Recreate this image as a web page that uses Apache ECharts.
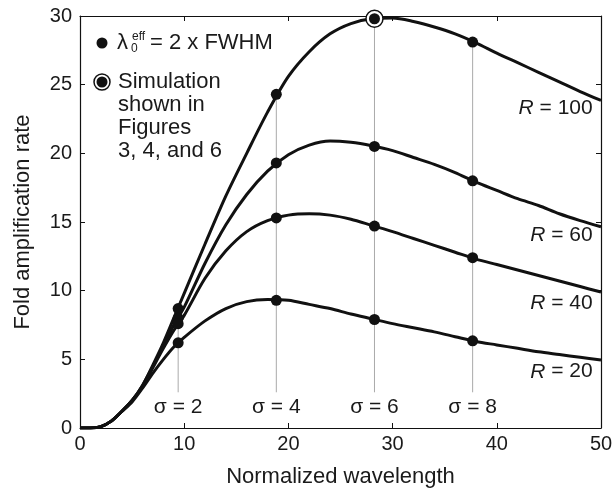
<!DOCTYPE html>
<html>
<head>
<meta charset="utf-8">
<script src="https://cdn.jsdelivr.net/npm/echarts@6/dist/echarts.min.js"></script>
<style>
  html, body { margin: 0; padding: 0; background: #fff; }
  #chart { width: 616px; height: 494px; }
</style>
</head>
<body>
<div id="chart"></div>
<script>
// sample positions along the normalized wavelength
var xs = [0, 1, 2, 3, 4, 5, 6, 7, 8, 9, 10, 12, 14, 16, 18, 20, 22, 24, 26, 28, 30, 32, 34, 36, 38, 40, 42, 44, 46, 48, 50];
var r100 = [0, 0, 0.1, 0.5, 1.2, 2.0, 3.1, 4.6, 6.2, 8.0, 9.8, 13.4, 16.9, 20.0, 23.0, 25.6, 27.4, 28.7, 29.45, 29.8, 29.85, 29.6, 29.2, 28.7, 28.05, 27.3, 26.6, 25.9, 25.2, 24.5, 23.85];
var r60 = [0, 0, 0.1, 0.5, 1.2, 2.0, 3.1, 4.5, 6.0, 7.5, 8.8, 12.0, 14.8, 17.0, 18.7, 19.9, 20.6, 20.9, 20.8, 20.55, 20.2, 19.7, 19.2, 18.6, 17.9, 17.3, 16.7, 16.2, 15.6, 15.1, 14.65];
var r40 = [0, 0, 0.1, 0.5, 1.2, 2.0, 3.0, 4.4, 5.8, 7.1, 8.2, 10.9, 12.9, 14.3, 15.1, 15.5, 15.6, 15.5, 15.2, 14.75, 14.3, 13.8, 13.3, 12.8, 12.3, 11.9, 11.5, 11.1, 10.7, 10.3, 9.9];
var r20 = [0, 0, 0.1, 0.5, 1.2, 1.9, 2.9, 4.0, 5.0, 5.9, 6.6, 7.8, 8.7, 9.2, 9.35, 9.3, 9.0, 8.7, 8.3, 7.95, 7.6, 7.3, 7.0, 6.65, 6.3, 6.05, 5.8, 5.55, 5.35, 5.15, 4.95];

// marker positions: lambda = 2 x FWHM for each sigma
var sigmas = [2, 4, 6, 8];
var sigmaX = [9.42, 18.84, 28.26, 37.68];
var dots100 = [8.7, 24.3, 29.8, 28.1];
var dots60 = [8.0, 19.3, 20.5, 18.0];
var dots40 = [7.6, 15.3, 14.7, 12.4];
var dots20 = [6.2, 9.3, 7.9, 6.35];
var simPoint = [28.26, 29.8];

// R labels
var rNames = [100, 60, 40, 20];
var rLabelY = [23.3, 14.05, 9.1, 4.1];
var rLabelX = 49.2;
var sigmaLabelY = 1.5;
var guideBottom = 2.6;

var font = '"Liberation Sans", Arial, Helvetica, sans-serif';
var ink = '#1a1a1a';

function pairs(x, y) {
  return x.map(function (v, i) { return [v, y[i]]; });
}

var curves = [r100, r60, r40, r20].map(function (arr) {
  return {
    type: 'line', data: pairs(xs, arr), smooth: 0.3, symbol: 'none',
    lineStyle: { color: '#111', width: 3 }, z: 3, silent: true
  };
});

var guides = sigmaX.map(function (x, i) {
  return {
    type: 'line', data: [[x, guideBottom], [x, dots100[i]]], symbol: 'none',
    lineStyle: { color: '#aaa', width: 1 }, z: 1, silent: true
  };
});

var dots = {
  type: 'scatter', symbol: 'circle', symbolSize: 11, z: 5, silent: true,
  itemStyle: { color: '#111', opacity: 1 },
  data: [].concat(pairs(sigmaX, dots100), pairs(sigmaX, dots60), pairs(sigmaX, dots40), pairs(sigmaX, dots20))
};

var simRing = {
  type: 'scatter', symbol: 'circle', symbolSize: 17, z: 4, silent: true,
  itemStyle: { color: '#fff', borderColor: '#111', borderWidth: 1.5, opacity: 1 },
  data: [simPoint]
};

var sigmaLabels = {
  type: 'scatter', symbolSize: 0, z: 6, silent: true,
  itemStyle: { opacity: 1 },
  data: sigmaX.map(function (x, i) { return { value: [x, sigmaLabelY], name: String(sigmas[i]) }; }),
  label: {
    show: true, position: 'inside', color: ink, fontSize: 21, fontFamily: font,
    formatter: function (p) { return 'σ = ' + p.name; }
  }
};

var rLabels = {
  type: 'scatter', symbolSize: 0, z: 6, silent: true,
  itemStyle: { opacity: 1 },
  data: rNames.map(function (r, i) { return { value: [rLabelX, rLabelY[i]], name: String(r) }; }),
  label: {
    show: true, position: 'left', distance: 0, color: ink, fontSize: 21, fontFamily: font,
    formatter: function (p) { return '{i|R} = ' + p.name; },
    rich: { i: { fontStyle: 'italic', fontSize: 21, fontFamily: font, color: ink } }
  }
};

var axisBase = {
  axisLine: { show: true, onZero: false, lineStyle: { color: '#111', width: 1.2 } },
  axisTick: { show: true, inside: true, length: 5, lineStyle: { color: '#111' } },
  splitLine: { show: false }
};

var chart = echarts.init(document.getElementById('chart'));
chart.setOption({
  animation: false,
  grid: { left: 80, right: 15, top: 16, bottom: 66 },
  xAxis: [
    Object.assign({
      type: 'value', min: 0, max: 50, interval: 10,
      name: 'Normalized wavelength', nameLocation: 'middle', nameGap: 38,
      nameTextStyle: { fontSize: 22, color: ink, fontFamily: font },
      axisLabel: { fontSize: 20, color: ink, fontFamily: font, margin: 6 }
    }, axisBase),
    Object.assign({
      type: 'value', min: 0, max: 50, interval: 10, position: 'top',
      axisLabel: { show: false }
    }, axisBase)
  ],
  yAxis: [
    Object.assign({
      type: 'value', min: 0, max: 30, interval: 5,
      name: 'Fold amplification rate', nameLocation: 'middle', nameGap: 46,
      nameTextStyle: { fontSize: 22, color: ink, fontFamily: font },
      axisLabel: { fontSize: 20, color: ink, fontFamily: font, margin: 8 }
    }, axisBase),
    Object.assign({
      type: 'value', min: 0, max: 30, interval: 5, position: 'right',
      axisLabel: { show: false }
    }, axisBase)
  ],
  series: [].concat(guides, curves, [simRing, dots, sigmaLabels, rLabels]),
  graphic: [
    { type: 'circle', shape: { cx: 102, cy: 43, r: 5.5 }, style: { fill: '#111' } },
    { type: 'text', x: 117, y: 43, style: { text: 'λ', fontSize: 22, fontFamily: font, fill: ink, verticalAlign: 'middle' } },
    { type: 'text', x: 132, y: 37, style: { text: 'eff', fontSize: 12, fontFamily: font, fill: ink, verticalAlign: 'middle' } },
    { type: 'text', x: 131, y: 49, style: { text: '0', fontSize: 12, fontFamily: font, fill: ink, verticalAlign: 'middle' } },
    { type: 'text', x: 150, y: 43, style: { text: '= 2 x FWHM', fontSize: 22, fontFamily: font, fill: ink, verticalAlign: 'middle' } },
    { type: 'circle', shape: { cx: 102, cy: 82, r: 8 }, style: { fill: '#fff', stroke: '#111', lineWidth: 1.5 } },
    { type: 'circle', shape: { cx: 102, cy: 82, r: 5.5 }, style: { fill: '#111' } },
    { type: 'text', x: 118, y: 82, style: { text: 'Simulation', fontSize: 22, fontFamily: font, fill: ink, verticalAlign: 'middle' } },
    { type: 'text', x: 118, y: 105, style: { text: 'shown in', fontSize: 22, fontFamily: font, fill: ink, verticalAlign: 'middle' } },
    { type: 'text', x: 118, y: 128, style: { text: 'Figures', fontSize: 22, fontFamily: font, fill: ink, verticalAlign: 'middle' } },
    { type: 'text', x: 118, y: 151, style: { text: '3, 4, and 6', fontSize: 22, fontFamily: font, fill: ink, verticalAlign: 'middle' } }
  ]
});
</script>
</body>
</html>
